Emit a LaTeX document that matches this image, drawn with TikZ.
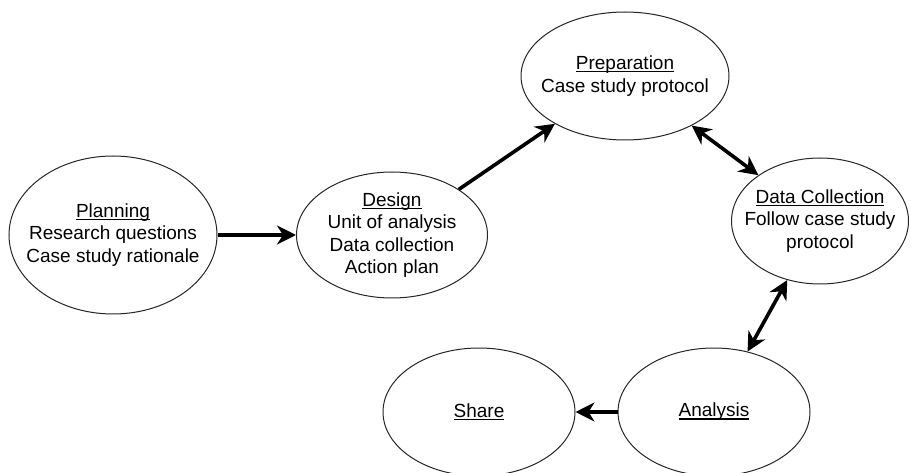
\documentclass[tikz,border=0pt]{standalone}
\usepackage{fontspec}
\setmainfont{Liberation Sans}
\usetikzlibrary{shapes.geometric,arrows.meta}
\newcommand{\myul}[1]{\setbox0\hbox{#1}\rlap{\rule[-2.6pt]{\wd0}{1.1pt}}\box0}
\begin{document}
\begin{tikzpicture}[x=1pt,y=-1pt,
  oval/.style={ellipse, draw=black!85, line width=1pt, inner sep=0pt},
  txt/.style={align=center, font=\fontsize{19}{22.5}\selectfont, inner sep=0pt},
  conn/.style={line width=3.6pt, draw=black}
]
\useasboundingbox (0,0) rectangle (911,473);
\fill[white] (0,0) rectangle (911,473);

\node[oval, minimum width=208pt, minimum height=158pt] (plan) at (113,235) {};
\node[txt] (planT) at (plan.center) {\myul{Planning}\\Research questions\\Case study rationale};

\node[oval, minimum width=191pt, minimum height=126pt] (design) at (392,235) {};
\node[txt] (designT) at (design.center) {\myul{Design}\\Unit of analysis\\Data collection\\Action plan};

\node[oval, minimum width=208pt, minimum height=128pt] (prep) at (625,76) {};
\node[txt] (prepT) at (prep.center) {\myul{Preparation}\\Case study protocol};

\node[oval, minimum width=177pt, minimum height=126pt] (dc) at (820,221) {};
\node[txt] (dcT) at (dc.center) {\myul{Data Collection}\\Follow case study\\protocol};

\node[oval, minimum width=192pt, minimum height=128pt] (ana) at (714,412) {};
\node[txt] (anaT) at (ana.center) {\myul{Analysis}};

\node[oval, minimum width=192pt, minimum height=128pt] (share) at (479,412) {};
\node[txt] (shareT) at (share.center) {\myul{Share}};

\draw[conn, -{Stealth[length=19pt, width=19pt, inset=6pt]}] (plan) -- (design);
\draw[conn, -{Stealth[length=19pt, width=19pt, inset=6pt]}] (design) -- (prep);
\draw[conn, {Stealth[length=19pt, width=19pt, inset=6pt]}-{Stealth[length=19pt, width=19pt, inset=6pt]}] (prep) -- (dc);
\draw[conn, {Stealth[length=19pt, width=19pt, inset=6pt]}-{Stealth[length=19pt, width=19pt, inset=6pt]}] (dc) -- (ana);
\draw[conn, -{Stealth[length=19pt, width=19pt, inset=6pt]}] (ana) -- (share);
\end{tikzpicture}
\end{document}
